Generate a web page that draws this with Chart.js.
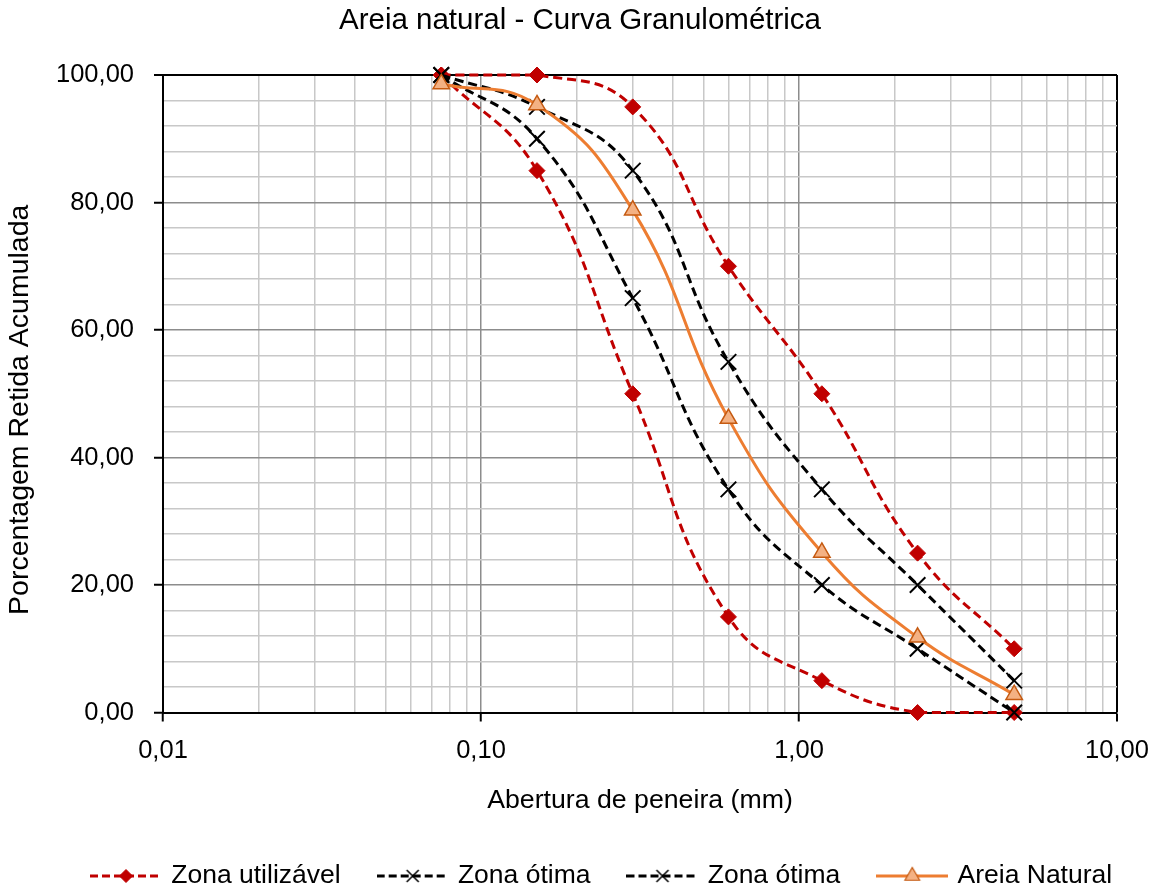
<!DOCTYPE html>
<html><head><meta charset="utf-8">
<script src="https://cdn.jsdelivr.net/npm/chart.js@4.4.1/dist/chart.umd.min.js"></script>
<style>html,body{margin:0;padding:0;background:#fff}#wrap{width:1160px;height:889px}</style>
</head><body><div id="wrap"><canvas id="c" width="1160" height="889"></canvas></div>
<script>
// ---- data ----
const sieves = [0.075, 0.15, 0.3, 0.6, 1.18, 2.36, 4.75];
const zonaUtilInferior = [100, 85, 50, 15, 5, 0, 0];
const zonaUtilSuperior = [100, 100, 95, 70, 50, 25, 10];
const zonaOtimaInferior = [100, 90, 65, 35, 20, 10, 0];
const zonaOtimaSuperior = [100, 95, 85, 55, 35, 20, 5];
const areiaNatural = [98.6, 95.3, 78.8, 46.1, 25.1, 11.8, 2.8];
const xTickValues = [0.01, 0.1, 1, 10];
const xTickLabels = ['0,01', '0,10', '1,00', '10,00'];
const yTickValues = [0, 20, 40, 60, 80, 100];
const yTickLabels = ['0,00', '20,00', '40,00', '60,00', '80,00', '100,00'];

const FONT = "'Liberation Sans', Arial, sans-serif";
Chart.defaults.font.family = FONT;
Chart.defaults.color = '#000';

// grid positions (minor lines)
const xGrid = [];
[-2, -1, 0].forEach(e => { for (let m = 1; m <= 9; m++) xGrid.push(Number((m * Math.pow(10, e)).toPrecision(6))); });
xGrid.push(10);
const yGrid = [];
for (let v = 0; v <= 100; v += 4) yGrid.push(v);

const isDecade = v => Math.abs(Math.log10(v) - Math.round(Math.log10(v))) < 1e-9;

const RED = '#C00000', ORANGE = '#ED7D31', TRI_FILL = '#F4B183', TRI_EDGE = '#C55A11';

function pts(arr) { return sieves.map((x, i) => ({ x: x, y: arr[i] })); }

function symbol(color, dashed, style, fill, edge, radius, bw) {
  const c = document.createElement('canvas');
  c.width = 72; c.height = 24;
  const g = c.getContext('2d');
  g.strokeStyle = color; g.lineWidth = 3;
  if (dashed) g.setLineDash([8, 4]);
  g.beginPath(); g.moveTo(0, 12); g.lineTo(72, 12); g.stroke();
  g.setLineDash([]);
  g.fillStyle = fill; g.strokeStyle = edge; g.lineWidth = bw;
  Chart.helpers.drawPoint(g, { pointStyle: style, radius: radius, rotation: 0, borderWidth: bw }, 36, 12);
  return c;
}

const datasets = [
  { label: 'Zona utilizável', data: pts(zonaUtilInferior), order: 5, borderColor: RED, borderDash: [9, 5], borderWidth: 3,
    pointStyle: 'rectRot', pointRadius: 8, pointBackgroundColor: RED, pointBorderColor: RED, pointBorderWidth: 1,
    legendSymbol: symbol(RED, true, 'rectRot', RED, RED, 6.5, 1) },
  { label: 'Zona utilizável', data: pts(zonaUtilSuperior), order: 4, borderColor: RED, borderDash: [9, 5], borderWidth: 3,
    pointStyle: 'rectRot', pointRadius: 8, pointBackgroundColor: RED, pointBorderColor: RED, pointBorderWidth: 1,
    hideInLegend: true },
  { label: 'Zona ótima', data: pts(zonaOtimaInferior), order: 3, borderColor: '#000', borderDash: [9, 5], borderWidth: 3,
    pointStyle: 'crossRot', pointRadius: 11, pointBackgroundColor: '#000', pointBorderColor: '#000', pointBorderWidth: 2,
    legendSymbol: symbol('#000', true, 'crossRot', '#000', '#000', 8.5, 1.5) },
  { label: 'Zona ótima', data: pts(zonaOtimaSuperior), order: 2, borderColor: '#000', borderDash: [9, 5], borderWidth: 3,
    pointStyle: 'crossRot', pointRadius: 11, pointBackgroundColor: '#000', pointBorderColor: '#000', pointBorderWidth: 2,
    legendSymbol: symbol('#000', true, 'crossRot', '#000', '#000', 8.5, 1.5) },
  { label: 'Areia Natural', data: pts(areiaNatural), order: 1, borderColor: ORANGE, borderWidth: 3,
    pointStyle: 'triangle', pointRadius: 9.5, pointBackgroundColor: TRI_FILL, pointBorderColor: TRI_EDGE, pointBorderWidth: 1.5,
    legendSymbol: symbol(ORANGE, false, 'triangle', TRI_FILL, TRI_EDGE, 8.5, 1.2) }
];
datasets.forEach(d => { d.tension = 0.45; d.fill = false; d.clip = false; });

const LEG_PAD = 40, LEG_FONT = 26.5;
const legendPlace = {
  id: 'legendPlace',
  afterLayout(chart) {
    const l = chart.legend;
    if (l && l.lineWidths) {
      const cur = (l.left + LEG_PAD + l.right - l.lineWidths[0]) / 2;
      const dx = 94 - cur;
      l.left += dx; l.right += dx;
      const dy = (876 - LEG_PAD - LEG_FONT / 2) - l.top;
      l.top += dy; l.bottom += dy;
    }
    const s = chart.scales.y;
    if (s && !s._titleShifted && typeof s.drawTitle === 'function') {
      const orig = s.drawTitle;
      s.drawTitle = function () {
        const ctx = this.ctx;
        ctx.save(); ctx.translate(0, 16); orig.apply(this, arguments); ctx.restore();
      };
      s._titleShifted = true;
    }
  }
};

new Chart(document.getElementById('c'), {
  type: 'line',
  data: { datasets: datasets },
  plugins: [legendPlace],
  options: {
    responsive: false,
    animation: false,
    devicePixelRatio: 1,
    layout: { padding: 0 },
    plugins: {
      tooltip: { enabled: false },
      title: {
        display: true, text: 'Areia natural - Curva Granulométrica', color: '#000',
        font: { size: 29.5, weight: 'normal', family: FONT }, padding: { top: 3, bottom: 36.6 }
      },
      legend: {
        position: 'bottom',
        labels: {
          usePointStyle: true, pointStyleWidth: 64, padding: LEG_PAD, color: '#000',
          font: { size: LEG_FONT, family: FONT },
          generateLabels: chart => chart.data.datasets
            .map((ds, i) => ({ ds, i }))
            .filter(o => !o.ds.hideInLegend)
            .map(o => ({ text: o.ds.label, pointStyle: o.ds.legendSymbol, fillStyle: 'rgba(0,0,0,0)',
              strokeStyle: 'rgba(0,0,0,0)', lineWidth: 0, hidden: false, datasetIndex: o.i, fontColor: '#000' }))
        }
      }
    },
    scales: {
      x: {
        type: 'logarithmic', min: 0.01, max: 10,
        afterBuildTicks: s => { s.ticks = xGrid.map(v => ({ value: v })); },
        afterFit: s => { s.height = 100; s.paddingRight = 0; s.paddingLeft = 0; },
        ticks: {
          autoSkip: false, maxRotation: 0, minRotation: 0, padding: 14, color: '#000',
          font: { size: 25.5, family: FONT },
          callback: v => { const i = xTickValues.findIndex(t => Math.abs(t - v) / t < 1e-6); return i >= 0 ? xTickLabels[i] : ''; }
        },
        grid: {
          color: c => { const v = c.tick.value; return Math.abs(v - 10) < 1e-9 ? '#000' : (isDecade(v) ? '#8c8c8c' : '#c8c8c8'); },
          lineWidth: c => Math.abs(c.tick.value - 10) < 1e-9 ? 2 : 1.5,
          tickLength: 9, tickWidth: 2,
          tickColor: c => isDecade(c.tick.value) ? '#000' : 'rgba(0,0,0,0)'
        },
        border: { color: '#000', width: 2 },
        title: { display: true, text: 'Abertura de peneira (mm)', color: '#000', font: { size: 26.7, family: FONT }, padding: { top: 0, bottom: -4 } }
      },
      y: {
        type: 'linear', min: 0, max: 100, position: 'left',
        afterBuildTicks: s => { s.ticks = yGrid.map(v => ({ value: v })); },
        afterFit: s => { s.width = 163; },
        ticks: {
          autoSkip: false, padding: 20, color: '#000', font: { size: 25.5, family: FONT },
          callback: v => { const i = yTickValues.indexOf(v); return i >= 0 ? yTickLabels[i] : ''; }
        },
        grid: {
          color: c => { const v = c.tick.value; return v === 100 ? '#000' : (v % 20 === 0 ? '#8c8c8c' : '#c8c8c8'); },
          lineWidth: c => c.tick.value === 100 ? 2 : 1.5,
          tickLength: 9, tickWidth: 2,
          tickColor: c => c.tick.value % 20 === 0 ? '#000' : 'rgba(0,0,0,0)'
        },
        border: { color: '#000', width: 2 },
        title: { display: true, text: 'Porcentagem Retida Acumulada', color: '#000', font: { size: 28.5, family: FONT }, padding: { top: 3, bottom: 0 } }
      },
      yR: {
        type: 'linear', position: 'right', display: true, min: 0, max: 100,
        afterFit: s => { s.width = 43; },
        ticks: { display: false }, grid: { display: false }, border: { display: false }
      }
    }
  }
});
</script>
</body></html>
